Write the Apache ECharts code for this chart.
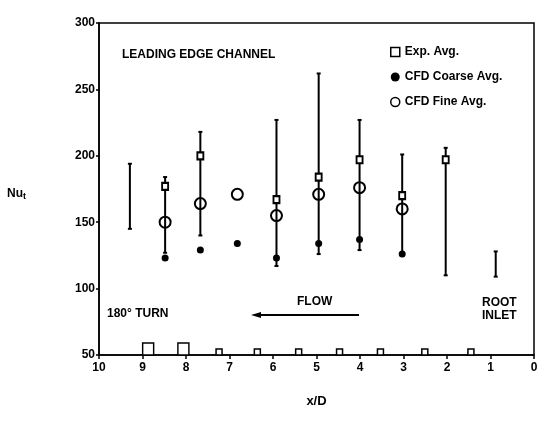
<html>
<head>
<meta charset="utf-8">
<script src="https://cdn.jsdelivr.net/npm/echarts@6/dist/echarts.min.js"></script>
<style>
  body { margin: 0; background: #fff; }
  #main { width: 546px; height: 423px; }
</style>
</head>
<body>
<div id="main"></div>
<script>
// error bar ranges (x/D, low, high)
var barX  = [9.29, 8.48, 7.67, 5.92, 4.95, 4.01, 3.03, 2.03, 0.88];
var barLo = [145, 127, 140, 117, 126, 129, 126, 110, 109];
var barHi = [194, 184, 218, 227, 262, 227, 201, 206, 128];

// averages
var expX = [8.48, 7.67, 5.92, 4.95, 4.01, 3.03, 2.03];
var expY = [177, 200, 167, 184, 197, 170, 197];
var coarseX = [8.48, 7.67, 6.82, 5.92, 4.95, 4.01, 3.03];
var coarseY = [123, 129, 134, 123, 134, 137, 126];
var fineX = [8.48, 7.67, 6.82, 5.92, 4.95, 4.01, 3.03];
var fineY = [150, 164, 171, 155, 171, 176, 160];

// measurement stations drawn along the bottom axis
var stationX = [8.87, 8.06, 7.24, 6.36, 5.41, 4.47, 3.53, 2.51, 1.45];
var stationY = [50, 50, 50, 50, 50, 50, 50, 50, 50];

var xTicks = [0, 1, 2, 3, 4, 5, 6, 7, 8, 9, 10];
var yTicks = [50, 100, 150, 200, 250, 300];

function pairs(xs, ys) {
  var out = [];
  for (var i = 0; i < xs.length; i++) out.push([xs[i], ys[i]]);
  return out;
}

var bars = [];
for (var i = 0; i < barX.length; i++) bars.push([barX[i], barLo[i], barHi[i]]);

var font = 'Liberation Sans';
var myChart = echarts.init(document.getElementById('main'));
var option = {
  animation: false,
  backgroundColor: '#fff',
  grid: { left: 99, right: 12, top: 23, bottom: 68, show: true, borderColor: '#000', borderWidth: 1.5 },
  xAxis: {
    type: 'value', min: 0, max: 10, interval: 1, inverse: true,
    name: 'x/D', nameLocation: 'middle', nameGap: 40,
    nameTextStyle: { fontFamily: font, fontWeight: 'bold', fontSize: 13, color: '#000' },
    axisLine: { onZero: false, lineStyle: { color: '#000', width: 1.5 } },
    axisTick: { length: 4, lineStyle: { color: '#000', width: 1.5 } },
    axisLabel: { color: '#000', fontFamily: font, fontWeight: 'bold', fontSize: 12, margin: 7,
      formatter: function (v) { return xTicks.indexOf(v) >= 0 ? String(v) : ''; } },
    splitLine: { show: false }
  },
  yAxis: {
    type: 'value', min: 50, max: 300, interval: 50, position: 'left',
    axisLine: { show: true, onZero: false, lineStyle: { color: '#000', width: 1.5 } },
    axisTick: { show: true, length: 3, lineStyle: { color: '#000', width: 1.5 } },
    axisLabel: { color: '#000', fontFamily: font, fontWeight: 'bold', fontSize: 12, margin: 4,
      formatter: function (v) { return yTicks.indexOf(v) >= 0 ? String(v) : ''; } },
    splitLine: { show: false }
  },
  legend: {
    orient: 'vertical', left: 385, top: 41, itemGap: 13, itemWidth: 9, itemHeight: 9,
    textStyle: { fontFamily: font, fontWeight: 'bold', fontSize: 12, color: '#000' },
    data: [
      { name: 'Exp. Avg.', icon: 'rect', itemStyle: { color: '#fff', borderColor: '#000', borderWidth: 1.5 } },
      { name: 'CFD Coarse Avg.', icon: 'circle', itemStyle: { color: '#000' } },
      { name: 'CFD Fine Avg.', icon: 'circle', itemStyle: { color: '#fff', borderColor: '#000', borderWidth: 1.5 } }
    ]
  },
  series: [
    {
      type: 'custom', name: 'range', silent: true, z: 2,
      data: bars,
      renderItem: function (params, api) {
        var top = api.coord([api.value(0), api.value(2)]);
        var bot = api.coord([api.value(0), api.value(1)]);
        var st = { stroke: '#000', lineWidth: 2 };
        return {
          type: 'group',
          children: [
            { type: 'line', shape: { x1: top[0], y1: top[1], x2: bot[0], y2: bot[1] }, style: st },
            { type: 'line', shape: { x1: top[0] - 2, y1: top[1], x2: top[0] + 2, y2: top[1] }, style: st },
            { type: 'line', shape: { x1: bot[0] - 2, y1: bot[1], x2: bot[0] + 2, y2: bot[1] }, style: st }
          ]
        };
      }
    },
    {
      type: 'scatter', name: 'Exp. Avg.', z: 4,
      data: pairs(expX, expY), symbol: 'rect', symbolSize: [6, 7],
      itemStyle: { color: '#fff', borderColor: '#000', borderWidth: 2, opacity: 1 }
    },
    {
      type: 'scatter', name: 'CFD Coarse Avg.', z: 4,
      data: pairs(coarseX, coarseY), symbol: 'circle', symbolSize: 7,
      itemStyle: { color: '#000', opacity: 1 }
    },
    {
      type: 'scatter', name: 'CFD Fine Avg.', z: 3,
      data: pairs(fineX, fineY), symbol: 'circle', symbolSize: 11,
      itemStyle: { color: 'rgba(255,255,255,0)', borderColor: '#000', borderWidth: 2, opacity: 1 }
    },
    {
      type: 'scatter', name: 'stations', z: 3, clip: false,
      data: pairs(stationX, stationY), symbol: 'rect',
      symbolSize: function (v, p) { return p.dataIndex < 2 ? [11, 12] : [6, 6]; },
      symbolOffset: [0, 0],
      itemStyle: { color: '#fff', borderColor: '#000', borderWidth: 1.5, opacity: 1 }
    }
  ],
  graphic: [
    { type: 'text', left: 122, top: 49, style: { text: 'LEADING EDGE CHANNEL', font: 'bold 12px Liberation Sans', fill: '#000' } },
    { type: 'text', left: 107, top: 308, style: { text: '180\u00b0 TURN', font: 'bold 12px Liberation Sans', fill: '#000' } },
    { type: 'text', left: 297, top: 296, style: { text: 'FLOW', font: 'bold 12px Liberation Sans', fill: '#000' } },
    { type: 'text', left: 482, top: 296, style: { text: 'ROOT\nINLET', font: 'bold 12px Liberation Sans', fill: '#000', lineHeight: 13 } },
    { type: 'line', shape: { x1: 359, y1: 315, x2: 256, y2: 315 }, style: { stroke: '#000', lineWidth: 2 } },
    { type: 'polygon', shape: { points: [[251, 315], [261, 312], [261, 318]] }, style: { fill: '#000' } },
    { type: 'text', left: 7, top: 188, style: {
        text: '{a|Nu}{b|t}', fill: '#000',
        rich: { a: { font: 'bold 12px Liberation Sans', fill: '#000' }, b: { font: 'bold 9px Liberation Sans', fill: '#000', padding: [6, 0, 0, 0] } }
      } }
  ]
};

myChart.setOption(option);

// stations sit on the axis: lift each square by half its height
myChart.setOption({ series: [{}, {}, {}, {}, {
  symbolOffset: function (v, p) { return p.dataIndex < 2 ? [0, -6] : [0, -3]; }
}] });
</script>
</body>
</html>
